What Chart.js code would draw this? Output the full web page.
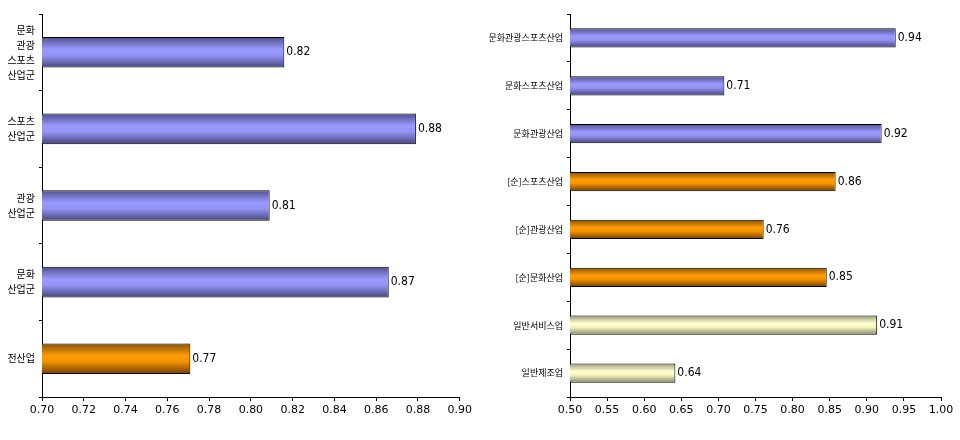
<!DOCTYPE html>
<html>
<head>
<meta charset="utf-8">
<script src="https://cdn.jsdelivr.net/npm/chart.js@4"></script>
<style>
  html, body { margin: 0; padding: 0; background: #fff; }
  #wrap { display: flex; width: 960px; height: 440px; }
  #leftBox { width: 475px; height: 440px; position: relative; }
  #rightBox { width: 485px; height: 440px; position: relative; }
</style>
</head>
<body>
<div id="wrap">
  <div id="leftBox"><canvas id="leftChart"></canvas></div>
  <div id="rightBox"><canvas id="rightChart"></canvas></div>
</div>
<script>
// 왼쪽: 산업군별
const leftLabels = [['문화', '관광', '스포츠', '산업군'], ['스포츠', '산업군'], ['관광', '산업군'], ['문화', '산업군'], '전산업'];
const leftValues = [0.816, 0.879, 0.809, 0.866, 0.771];
const leftKinds = ['blue', 'blue', 'blue', 'blue', 'orange'];
const leftMin = 0.70, leftMax = 0.90, leftStep = 0.02;

// 오른쪽: 세부 산업별
const rightLabels = ['문화관광스포츠산업', '문화스포츠산업', '문화관광산업', '[순]스포츠산업', '[순]관광산업', '[순]문화산업', '일반서비스업', '일반제조업'];
const rightValues = [0.939, 0.708, 0.920, 0.858, 0.761, 0.846, 0.914, 0.642];
const rightKinds = ['blue', 'blue', 'blue', 'orange', 'orange', 'orange', 'yellow', 'yellow'];
const rightMin = 0.50, rightMax = 1.00, rightStep = 0.05;

const PALETTE = {
  blue:   ['#50508a', '#9999ff', '#9494f5', '#45457a'],
  orange: ['#845206', '#ff9c0a', '#f59200', '#6e4000'],
  yellow: ['#9a9a7a', '#ffffd0', '#f7f7c4', '#858568']
};

const NUM_FONT = "'DejaVu Sans', sans-serif";
const KR_FONT = "'Noto Sans CJK KR', sans-serif";
const BAR_PCT = 0.8, CAT_PCT = 0.5;

// 막대 세로 그라데이션
function barFill(kinds) {
  return (c) => {
    const p = PALETTE[kinds[c.dataIndex] || kinds[0]];
    const chart = c.chart, y = chart.scales && chart.scales.y;
    if (!y || c.dataIndex === undefined) return p[1];
    const cy = y.getPixelForValue(c.dataIndex);
    const half = y.height / kinds.length * BAR_PCT * CAT_PCT / 2;
    if (!isFinite(cy) || !isFinite(half) || half <= 0) return p[1];
    const g = chart.ctx.createLinearGradient(0, cy - half, 0, cy + half);
    g.addColorStop(0, p[0]);
    g.addColorStop(0.4, p[1]);
    g.addColorStop(0.6, p[2]);
    g.addColorStop(1, p[3]);
    return g;
  };
}

// 막대 끝 값 표시
const valueLabels = {
  id: 'valueLabels',
  afterDatasetsDraw(chart) {
    const ctx = chart.ctx;
    const meta = chart.getDatasetMeta(0);
    const data = chart.data.datasets[0].data;
    ctx.save();
    ctx.font = 'condensed 12px ' + NUM_FONT;
    ctx.fillStyle = '#000';
    ctx.textAlign = 'left';
    ctx.textBaseline = 'middle';
    meta.data.forEach((el, i) => {
      ctx.fillText(data[i].toFixed(2), el.x + 2, el.y);
    });
    ctx.restore();
  }
};

function makeChart(id, labels, values, kinds, min, max, step, yWidth, krSize) {
  return new Chart(document.getElementById(id), {
    type: 'bar',
    data: {
      labels,
      datasets: [{
        data: values,
        backgroundColor: barFill(kinds),
        borderColor: '#000',
        borderWidth: 1,
        borderSkipped: false,
        barPercentage: BAR_PCT,
        categoryPercentage: CAT_PCT
      }]
    },
    options: {
      indexAxis: 'y',
      responsive: true,
      maintainAspectRatio: false,
      animation: false,
      layout: { padding: { top: 14, right: id === 'leftChart' ? 14 : 19, left: 0, bottom: 0 } },
      plugins: { legend: { display: false }, tooltip: { enabled: false } },
      scales: {
        x: {
          min, max,
          afterFit: s => { s.height = 43; },
          ticks: {
            stepSize: step,
            callback: v => Number(v).toFixed(2),
            font: { family: NUM_FONT, size: 11, style: 'condensed' },
            color: '#000',
            padding: 3,
            maxRotation: 0,
            autoSkip: false
          },
          grid: { drawOnChartArea: false, drawTicks: true, tickLength: 4, color: '#000' },
          border: { display: true, color: '#000' }
        },
        y: {
          afterFit: s => { s.width = yWidth; },
          ticks: {
            font: { family: KR_FONT, size: krSize, lineHeight: 1.5 },
            color: '#000',
            padding: 4,
            autoSkip: false
          },
          grid: { offset: true, drawOnChartArea: false, drawTicks: true, tickLength: 3, color: '#000' },
          border: { display: true, color: '#000' }
        }
      }
    },
    plugins: [valueLabels]
  });
}

makeChart('leftChart', leftLabels, leftValues, leftKinds, leftMin, leftMax, leftStep, 42, 10);
makeChart('rightChart', rightLabels, rightValues, rightKinds, rightMin, rightMax, rightStep, 95, 9);
</script>
</body>
</html>
